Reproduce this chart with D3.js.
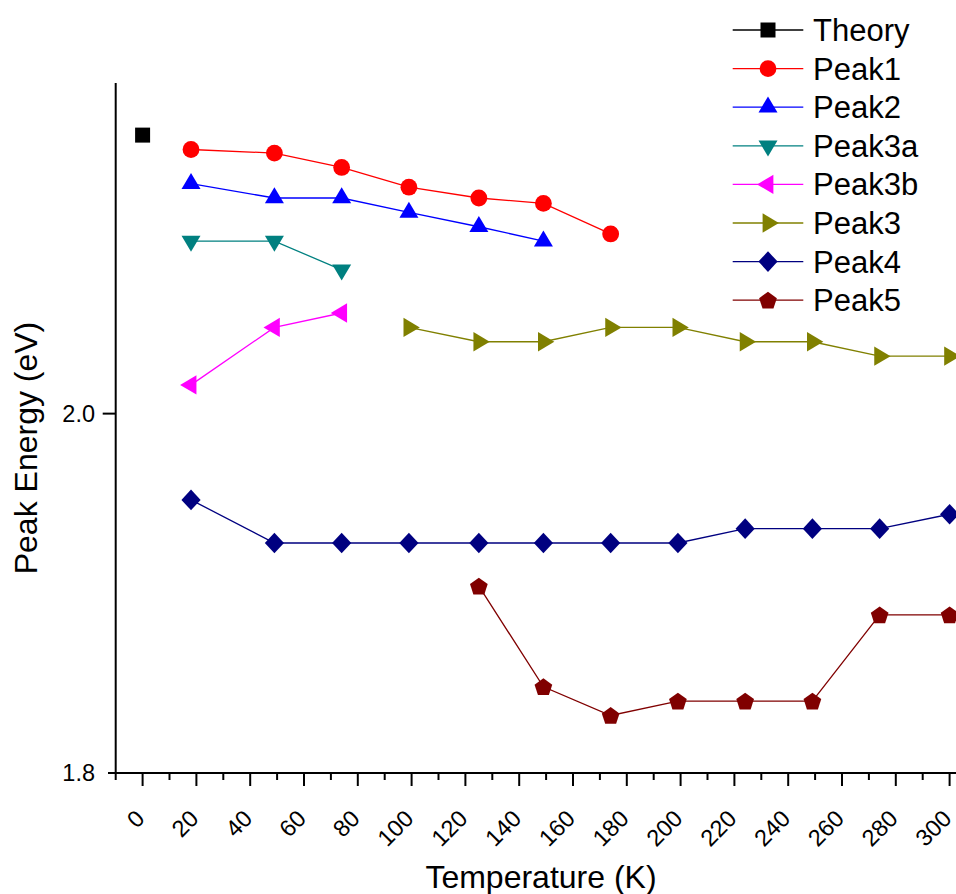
<!DOCTYPE html>
<html>
<head>
<meta charset="utf-8">
<script src="https://cdn.jsdelivr.net/npm/d3@7"></script>
<style>
  html, body { margin: 0; padding: 0; background: #fff; }
  svg { display: block; font-family: "Liberation Sans", Arial, sans-serif; }
</style>
</head>
<body>
<svg id="chart" width="956" height="894"></svg>
<script>
// temperatures (K) and peak energies (eV) per series
const theoryT = [0]
const theoryE = [2.155]
const peak1T = [18, 49, 74, 99, 125, 149, 174]
const peak1E = [2.147, 2.145, 2.137, 2.126, 2.120, 2.117, 2.100]
const peak2T = [18, 49, 74, 99, 125, 149]
const peak2E = [2.128, 2.120, 2.120, 2.112, 2.104, 2.096]
const peak3aT = [18, 49, 74]
const peak3aE = [2.096, 2.096, 2.080]
const peak3bT = [18, 49, 74]
const peak3bE = [2.016, 2.048, 2.056]
const peak3T = [99, 125, 149, 174, 199, 224, 249, 274, 300]
const peak3E = [2.048, 2.040, 2.040, 2.048, 2.048, 2.040, 2.040, 2.032, 2.032]
const peak4T = [18, 49, 74, 99, 125, 149, 174, 199, 224, 249, 274, 300]
const peak4E = [1.952, 1.928, 1.928, 1.928, 1.928, 1.928, 1.928, 1.928, 1.936, 1.936, 1.936, 1.944]
const peak5T = [125, 149, 174, 199, 224, 249, 274, 300]
const peak5E = [1.904, 1.848, 1.832, 1.840, 1.840, 1.840, 1.888, 1.888]

const seriesNames = ['Theory', 'Peak1', 'Peak2', 'Peak3a', 'Peak3b', 'Peak3', 'Peak4', 'Peak5']
const xTicks = d3.range(0, 301, 20)
const yTicks = [1.8, 2.0]

// styling
const colors = {
  Theory: '#000000', Peak1: '#ff0000', Peak2: '#0000ff', Peak3a: '#008080',
  Peak3b: '#ff00ff', Peak3: '#808000', Peak4: '#000080', Peak5: '#800000'
}
const shapes = {
  Theory: 'square', Peak1: 'circle', Peak2: 'up', Peak3a: 'down',
  Peak3b: 'left', Peak3: 'right', Peak4: 'diamond', Peak5: 'pentagon'
}

const series = [
  { name: 'Theory', t: theoryT, e: theoryE },
  { name: 'Peak1', t: peak1T, e: peak1E },
  { name: 'Peak2', t: peak2T, e: peak2E },
  { name: 'Peak3a', t: peak3aT, e: peak3aE },
  { name: 'Peak3b', t: peak3bT, e: peak3bE },
  { name: 'Peak3', t: peak3T, e: peak3E },
  { name: 'Peak4', t: peak4T, e: peak4E },
  { name: 'Peak5', t: peak5T, e: peak5E }
].map(s => ({ ...s, points: s.t.map((t, i) => ({ t, e: s.e[i] })) }))

// marker path centred at 0,0
function markerPath(shape) {
  switch (shape) {
    case 'square': return 'M-7.5,-7.5H7.5V7.5H-7.5Z'
    case 'circle': {
      const r = 8.4
      return `M${-r},0A${r},${r} 0 1,0 ${r},0A${r},${r} 0 1,0 ${-r},0Z`
    }
    case 'up': return 'M0,-10.7L9.5,5.3L-9.5,5.3Z'
    case 'down': return 'M0,10.7L9.5,-5.3L-9.5,-5.3Z'
    case 'left': return 'M-10.9,0L5.4,-9.7L5.4,9.7Z'
    case 'right': return 'M10.9,0L-5.4,-9.7L-5.4,9.7Z'
    case 'diamond': return 'M0,-10.3L9.6,0L0,10.3L-9.6,0Z'
    case 'pentagon': {
      const R = 9.3
      const pts = d3.range(5).map(k => {
        const a = -Math.PI / 2 + k * 2 * Math.PI / 5
        return [R * Math.cos(a), R * Math.sin(a) + 0.8]
      })
      return 'M' + pts.map(p => p.join(',')).join('L') + 'Z'
    }
  }
}

const svg = d3.select('#chart')

const x = d3.scaleLinear().domain([-10, 310]).range([115.7, 976.5])
const y = d3.scaleLinear().domain([1.8, 2.184]).range([773, 83])

// x axis
const xAxisG = svg.append('g').attr('transform', `translate(0,${y(1.8)})`)
xAxisG.append('line')
  .attr('x1', 108).attr('x2', x(310))
  .attr('stroke', '#000').attr('stroke-width', 2)
xAxisG.selectAll('.minor')
  .data(d3.range(-10, 311, 10).filter(v => v % 20 !== 0))
  .enter().append('line')
  .attr('x1', d => x(d)).attr('x2', d => x(d))
  .attr('y1', 0).attr('y2', 7)
  .attr('stroke', '#000').attr('stroke-width', 2)
xAxisG.selectAll('.major')
  .data(xTicks)
  .enter().append('line')
  .attr('x1', d => x(d)).attr('x2', d => x(d))
  .attr('y1', 0).attr('y2', 13)
  .attr('stroke', '#000').attr('stroke-width', 2)
svg.append('g').selectAll('text')
  .data(xTicks)
  .enter().append('text')
  .attr('transform', d => `translate(${x(d) + 3.5},${y(1.8) + 47}) rotate(-45)`)
  .attr('text-anchor', 'end')
  .style('font-size', '23.5px')
  .text(d => d)

// y axis
const yAxisG = svg.append('g')
yAxisG.append('line')
  .attr('x1', x(-10)).attr('x2', x(-10))
  .attr('y1', y(2.184)).attr('y2', y(1.8) + 1)
  .attr('stroke', '#000').attr('stroke-width', 2)
yAxisG.selectAll('.tick')
  .data(yTicks)
  .enter().append('line')
  .attr('x1', d => d === 2.0 ? 102.7 : 108).attr('x2', x(-10))
  .attr('y1', d => y(d)).attr('y2', d => y(d))
  .attr('stroke', '#000').attr('stroke-width', 2)
yAxisG.selectAll('text')
  .data(yTicks)
  .enter().append('text')
  .attr('x', 95)
  .attr('y', d => y(d) + 8)
  .attr('text-anchor', 'end')
  .style('font-size', '23.5px')
  .text(d => d.toFixed(1))

// axis titles
svg.append('text')
  .attr('x', 541).attr('y', 888)
  .attr('text-anchor', 'middle')
  .style('font-size', '32px')
  .text('Temperature (K)')
svg.append('text')
  .attr('transform', 'translate(36.5,448) rotate(-90)')
  .attr('text-anchor', 'middle')
  .style('font-size', '32px')
  .text('Peak Energy (eV)')

// series lines and markers
const line = d3.line().x(d => x(d.t)).y(d => y(d.e))
const plot = svg.append('g')
series.forEach(s => {
  plot.append('path')
    .datum(s.points)
    .attr('d', line)
    .attr('fill', 'none')
    .attr('stroke', colors[s.name])
    .attr('stroke-width', 1.3)
  plot.selectAll(null)
    .data(s.points)
    .enter().append('path')
    .attr('transform', d => `translate(${x(d.t)},${y(d.e)})`)
    .attr('d', markerPath(shapes[s.name]))
    .attr('fill', colors[s.name])
})

// legend
const legend = svg.append('g')
seriesNames.forEach((name, i) => {
  const cy = 30 + i * 38.6
  legend.append('line')
    .attr('x1', 732.7).attr('x2', 803.3)
    .attr('y1', cy).attr('y2', cy)
    .attr('stroke', colors[name]).attr('stroke-width', 1.3)
  legend.append('path')
    .attr('transform', `translate(768,${cy})`)
    .attr('d', markerPath(shapes[name]))
    .attr('fill', colors[name])
  legend.append('text')
    .attr('x', 813).attr('y', cy + 11)
    .style('font-size', '31px')
    .text(name)
})
</script>
</body>
</html>
